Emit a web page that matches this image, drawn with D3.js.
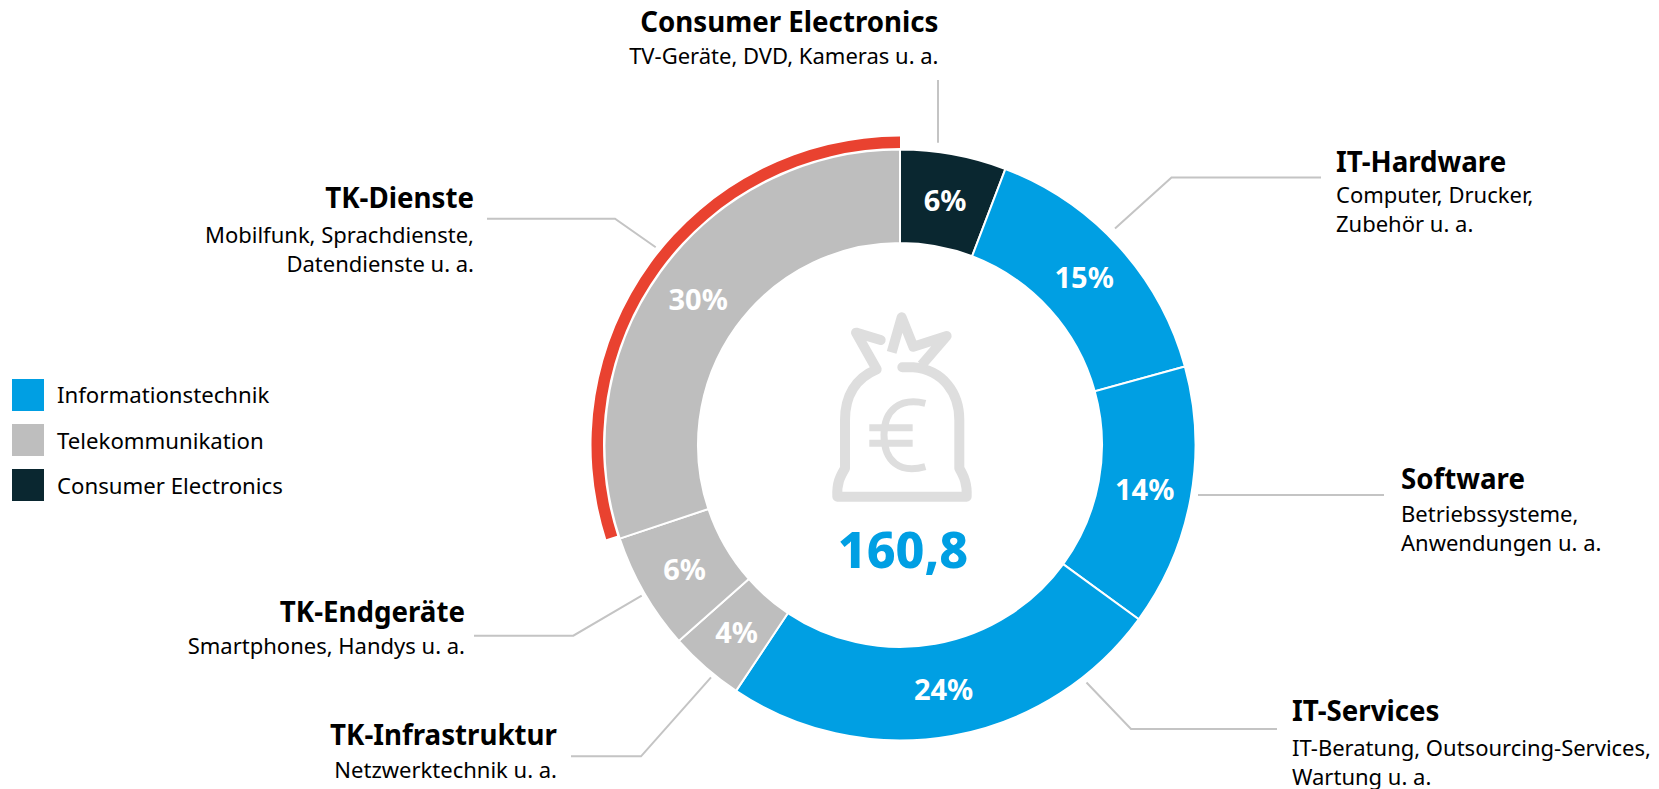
<!DOCTYPE html>
<html><head><meta charset="utf-8">
<script src="https://cdn.jsdelivr.net/npm/d3@7/dist/d3.min.js"></script>
<style>html,body{margin:0;padding:0;background:#fff}svg{display:block}text{font-family:"Noto Sans",sans-serif;fill:#000}</style>
</head><body><svg id="c" width="1659" height="789"></svg>
<script>
const names=["Consumer Electronics","IT-Hardware","Software","IT-Services","TK-Infrastruktur","TK-Endgeräte","TK-Dienste"];
const shares=[5.8,14.9,14.3,24.3,4.1,6.4,30.1];
const shareLabels=["6%","15%","14%","24%","4%","6%","30%"];
const groups=["Consumer Electronics","Informationstechnik","Informationstechnik","Informationstechnik","Telekommunikation","Telekommunikation","Telekommunikation"];
const legendItems=["Informationstechnik","Telekommunikation","Consumer Electronics"];
const legendColors=["#009fe3","#bebebe","#0a2730"];
const subLines=[["TV-Geräte, DVD, Kameras u. a."],["Computer, Drucker,","Zubehör u. a."],["Betriebssysteme,","Anwendungen u. a."],["IT-Beratung, Outsourcing-Services,","Wartung u. a."],["Netzwerktechnik u. a."],["Smartphones, Handys u. a."],["Mobilfunk, Sprachdienste,","Datendienste u. a."]];
const labelX=[938.5,1336,1401,1292,557,465,474];
const labelY=[32,171.5,489,721,745,622,208];
const subOffset=[32,31,33,35,33,32,35];
const labelAnchor=["end","start","start","start","end","end","end"];
const leaders=[[[938,80],[938,142.7]],[[1115,228.5],[1171.5,177.5],[1321,177.5]],[[1198,495],[1384,495]],[[1086.5,682.5],[1131,729],[1277,729]],[[711,677.3],[641,756.3],[571,756.3]],[[641.7,595.7],[573.3,635.7],[474,635.7]],[[655.7,247.3],[615,218.7],[487,218.7]]];
const total="160,8";

const svg=d3.select("#c");
const cx=900,cy=445,R=295.5,r0=202;
const color=d3.scaleOrdinal(legendItems,legendColors);
const pie=d3.pie().value(d=>d).sort(null);
const arcs=pie(shares);
const arc=d3.arc().innerRadius(r0).outerRadius(R);
const g=svg.append("g").attr("transform",`translate(${cx},${cy})`);
g.selectAll("path.s").data(arcs).join("path").attr("class","s").attr("d",arc)
 .attr("fill",(d,i)=>color(groups[i])).attr("stroke","#fff").attr("stroke-width",2);
const last=arcs[arcs.length-1];
g.append("path").attr("d",d3.arc().innerRadius(297).outerRadius(308.5).startAngle(last.startAngle+0.012).endAngle(last.endAngle)()).attr("fill","#e94230");
g.selectAll("text.p").data(arcs).join("text").attr("class","p")
 .attr("transform",d=>`translate(${arc.centroid(d)})`)
 .attr("text-anchor","middle").attr("dy","0.36em").style("fill","#fff")
 .style("font-weight",700).style("font-size","29px").text((d,i)=>shareLabels[i]);
const line=d3.line();
svg.selectAll("path.l").data(leaders).join("path").attr("class","l").attr("d",line)
 .attr("fill","none").attr("stroke","#c4c4c4").attr("stroke-width",2);
names.forEach((n,i)=>{
  const t=svg.append("g").attr("transform",`translate(${labelX[i]},${labelY[i]})`).attr("text-anchor",labelAnchor[i]);
  t.append("text").style("font-weight",700).style("font-size","27.7px").text(n);
  subLines[i].forEach((s,j)=>t.append("text").attr("y",subOffset[i]+j*29).style("font-size","22px").text(s));
});
legendItems.forEach((n,i)=>{
  const y=379+i*45;
  svg.append("rect").attr("x",12).attr("y",y).attr("width",32).attr("height",32).attr("fill",legendColors[i]);
  svg.append("text").attr("x",57).attr("y",y+24+(i>0?1:0)).style("font-size","22.2px").text(n);
});
const ic=svg.append("g").attr("transform","translate(780,280) scale(0.3333)").attr("fill","none").attr("stroke","#dedede").attr("stroke-linejoin","round").attr("stroke-linecap","round");
ic.append("path").attr("stroke-width",30).attr("d","M302,180 L228,158 L290,268 C225,295 195,350 195,420 L195,565 C180,590 170,610 172,650 L560,650 C562,610 552,590 538,565 L538,420 C538,340 490,270 400,262 L367,262");
ic.append("path").attr("stroke-width",30).attr("stroke-linecap","butt").attr("d","M335,217 L365,112 L400,200 L500,168 L425,255");
ic.append("path").attr("stroke-width",21).attr("stroke-linecap","butt").attr("d","M436,370 C360,352 312,390 312,465 C312,545 360,582 436,560 M268,443 L398,443 M268,490 L398,490");
svg.append("text").attr("x",903).attr("y",568).attr("text-anchor","middle").style("font-weight",800).style("font-size","50px").style("fill","#009fe3").text(total);
</script></body></html>
